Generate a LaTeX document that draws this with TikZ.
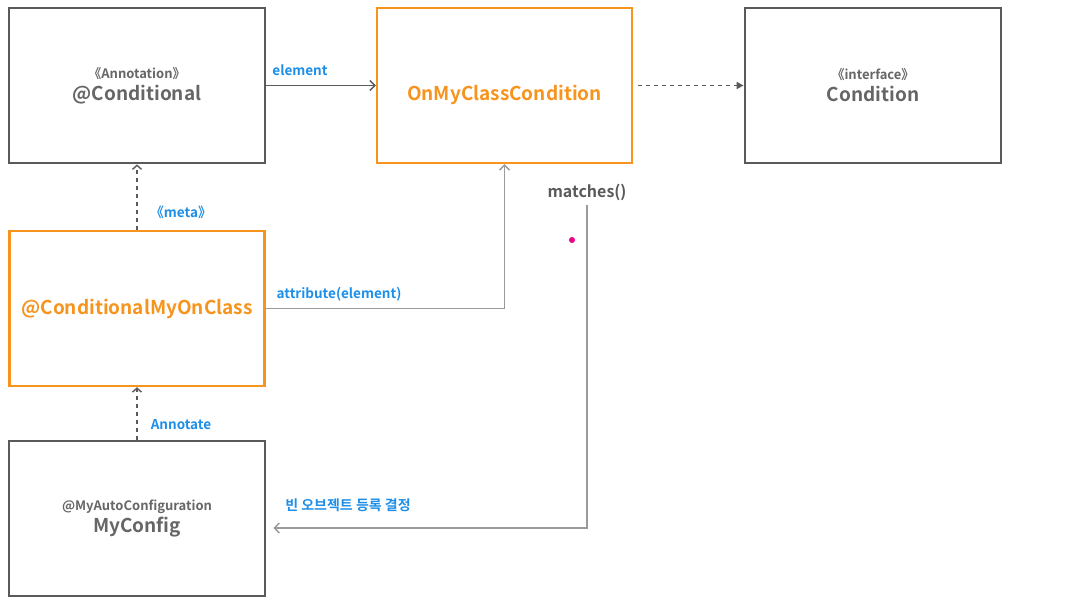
\documentclass[tikz,border=0pt]{standalone}
\usepackage{fontspec}
\setmainfont{Noto Sans CJK KR}[BoldFont = Noto Sans CJK KR Bold]
\usetikzlibrary{arrows.meta}
\definecolor{boxgray}{HTML}{5A5A5A}
\definecolor{orng}{HTML}{F7941D}
\definecolor{lblue}{HTML}{1E8FE8}
\definecolor{lgray}{HTML}{9A9A9A}
\definecolor{txtgray}{HTML}{666666}
\tikzset{
  graybox/.style={draw=boxgray, line width=2.8pt, minimum width=256pt, minimum height=155pt, align=center, text=txtgray, inner sep=0pt, font=\fontsize{19}{22}\selectfont\bfseries},
  orangebox/.style={draw=orng, line width=2.4pt, minimum width=255pt, minimum height=155pt, align=center, text=orng, inner sep=0pt, font=\fontsize{19}{22}\selectfont\bfseries},
  lbl/.style={text=lblue, font=\fontsize{13.5}{15}\selectfont\bfseries, inner sep=0pt},
  conn/.style={draw=boxgray, line width=1.4pt, -{Straight Barb[length=5pt,width=10pt,line width=1.4pt]}},
  dconn/.style={draw=boxgray, line width=1.6pt, dash pattern=on 4pt off 4pt},
  lconn/.style={draw=lgray, line width=1.6pt, -{Straight Barb[length=5pt,width=10pt,line width=1.4pt]}},
}
\newcommand{\subttl}[1]{{\fontsize{13}{15}\selectfont #1}}
\begin{document}
\begin{tikzpicture}[x=1pt,y=-1pt]
\useasboundingbox[fill=white] (0,0) rectangle (1073,606);
\node[graybox] (cond) at (137,85.5) {\subttl{《Annotation》}\\@Conditional};
\node[orangebox] (onmy) at (504.5,85.5) {};
\node[text=orng, font=\fontsize{19}{22}\selectfont\bfseries, inner sep=0pt] (onmyt) at (504.5,95) {OnMyClassCondition};
\node[graybox] (iface) at (873,85.5) {\subttl{《interface》}\\Condition};
\node[orangebox] (cmoc) at (137,308.5) {@ConditionalMyOnClass};
\node[graybox] (mycfg) at (137,518.5) {\subttl{@MyAutoConfiguration}\\MyConfig};

\draw[conn] (cond.east) -- (onmy.west);
\node[lbl] (lelem) at (300,70) {element};

\draw[dconn, -{Triangle[length=7pt,width=7pt]}, shorten <=5pt] (onmy.east) -- (iface.west);

\draw[dconn, -{Straight Barb[length=4pt,width=9pt,line width=1.4pt]}] (cmoc.north) -- (cond.south);
\node[lbl] (lmeta) at (181,212) {《meta》};

\draw[dconn, -{Straight Barb[length=4pt,width=9pt,line width=1.4pt]}] (mycfg.north) -- (cmoc.south);
\node[lbl] (lann) at (181,425) {Annotate};

\draw[lconn] (cmoc.east) -| (onmy.south);
\node[lbl] (lattr) at (339,294) {attribute(element)};

\node[text=boxgray, font=\fontsize{16}{18}\selectfont\bfseries, inner sep=0pt] (lmatch) at (587,192) {matches()};
\coordinate (mstart) at (587,205);
\draw[lconn, shorten >=7pt] (mstart) |- ([yshift=-9.5pt]mycfg.east);
\node[lbl, font=\fontsize{14}{16}\selectfont\bfseries] (lbean) at (348,505) {빈 오브젝트 등록 결정};

\fill[magenta] (572,240) circle (3pt);
\end{tikzpicture}
\end{document}
